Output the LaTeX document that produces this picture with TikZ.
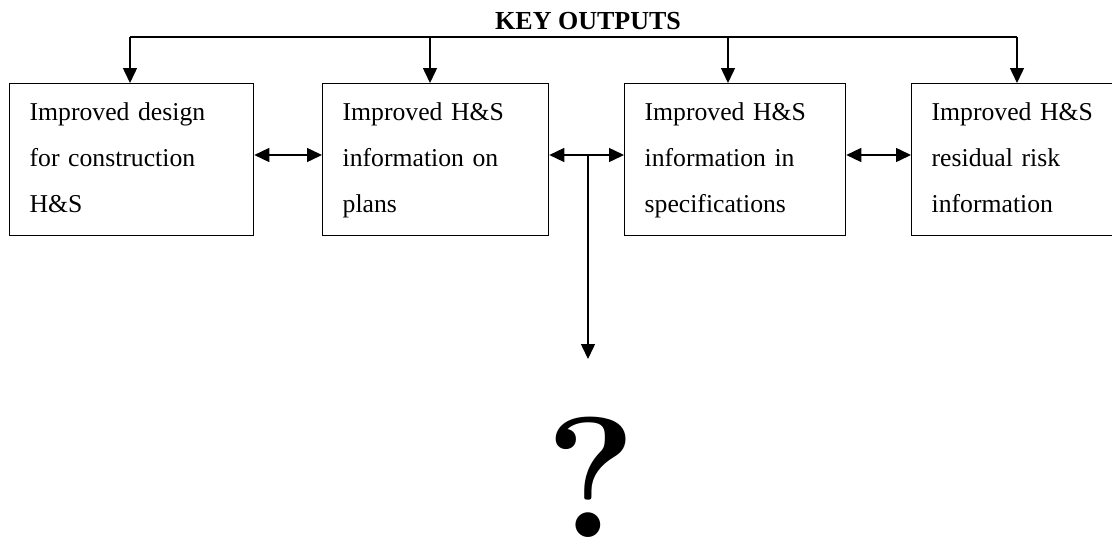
\documentclass[tikz,border=0pt]{standalone}
\usepackage{fontspec}
\setmainfont{Liberation Serif}
\newfontfamily\qfont{Latin Modern Roman}
\usetikzlibrary{arrows.meta}
% fixed first-line height and last-line depth so all boxes line up
\newcommand{\toprule}{\rule{0pt}{22pt}}
\newcommand{\botrule}{\rule[-8pt]{0pt}{8pt}}
\begin{document}
\begin{tikzpicture}[x=1pt,y=-1pt,
  line width=1.5pt,
  >={Triangle[length=15pt,width=14pt]},
  outbox/.style={draw, line width=1.3pt, anchor=north west, inner xsep=20pt, inner ysep=0pt,
    minimum height=152pt, align=left,
    font=\fontsize{25.7}{46}\selectfont},
  title/.style={font=\fontsize{26}{30}\selectfont\bfseries, anchor=base, inner sep=0pt}]
\useasboundingbox (0,0) rectangle (1112,546);

% the four output boxes
\node[outbox, minimum width=244pt, text width=204pt] (b1) at (9,83)
  {\toprule Improved design\\for construction\\H\&S\botrule};
\node[outbox, minimum width=226pt, text width=186pt] (b2) at (322,83)
  {\toprule Improved H\&S\\information on\\plans\botrule};
\node[outbox, minimum width=221pt, text width=181pt] (b3) at (624,83)
  {\toprule Improved H\&S\\information in\\specifications\botrule};
\node[outbox, minimum width=204pt, text width=164pt] (b4) at (911,83)
  {\toprule Improved H\&S\\residual risk\\information\botrule};

% heading and the distribution bus above the boxes
\node[title] (key) at (588,30) {KEY OUTPUTS};
\coordinate (t1) at (130,37);
\coordinate (t2) at (430,37);
\coordinate (t3) at (728,37);
\coordinate (t4) at (1017,37);
\draw (t1) -- (t4);
\draw[->] (t1) -- (t1 |- b1.north);
\draw[->] (t2) -- (t2 |- b2.north);
\draw[->] (t3) -- (t3 |- b3.north);
\draw[->] (t4) -- (t4 |- b4.north);

% links between neighbouring boxes
\coordinate (mid) at (0,155);
\draw[<->] (b1.east |- mid) -- (b2.west |- mid);
\draw[<->] (b2.east |- mid) -- (b3.west |- mid);
\draw[<->] (b3.east |- mid) -- (b4.west |- mid);

% branch down to the open question
\coordinate (j) at (588,155);
\coordinate (qtop) at (588,359);
\node[anchor=base, inner sep=0pt, font=\fontsize{172}{172}\qfont\bfseries] (q) at (591,537) {?};
\draw[->] (j) -- (qtop);
\end{tikzpicture}
\end{document}
